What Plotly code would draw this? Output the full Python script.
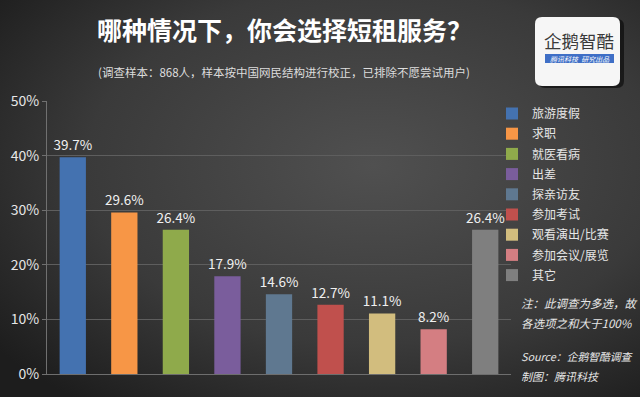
import base64
import plotly.graph_objects as go

W, H = 640, 397

categories = ["旅游度假", "求职", "就医看病", "出差", "探亲访友", "参加考试", "观看演出/比赛", "参加会议/展览", "其它"]
values = [39.7, 29.6, 26.4, 17.9, 14.6, 12.7, 11.1, 8.2, 26.4]
colors = ["#4472b0", "#f79646", "#8faa4b", "#7a5d9c", "#5f7890", "#c0504d", "#d2bd7e", "#d47e82", "#7f7f7f"]
y_ticks = [0, 10, 20, 30, 40, 50]
y_tick_labels = ["0%", "10%", "20%", "30%", "40%", "50%"]

title_text = "哪种情况下，你会选择短租服务？"
subtitle_text = "(调查样本：868人，样本按中国网民结构进行校正，已排除不愿尝试用户)"
note_lines = ["注：此调查为多选，故", "各选项之和大于100%", "Source：企鹅智酷调查", "制图：腾讯科技"]

FONT = "Noto Sans CJK SC"


def px(x):
    return x / W


def py(y):
    return 1 - y / H


fig = go.Figure()
for cat, val, col in zip(categories, values, colors):
    fig.add_trace(go.Bar(
        x=[cat], y=[val], name=cat, legendgroup=cat,
        marker=dict(color=col, line=dict(width=0)),
        text=[f"{val:.1f}%"], textposition="outside", constraintext="none",
        textfont=dict(color="#f0f0f0", size=13.5, family=FONT),
        cliponaxis=False,
    ))

# background radial gradient
svg = (
    f'<svg xmlns="http://www.w3.org/2000/svg" width="{W}" height="{H}">'
    '<defs><radialGradient id="g" cx="0.58" cy="0.42" r="0.72">'
    '<stop offset="0" stop-color="#505050"/><stop offset="0.6" stop-color="#3a3a3a"/>'
    '<stop offset="1" stop-color="#1d1d1d"/></radialGradient></defs>'
    f'<rect width="{W}" height="{H}" fill="url(#g)"/>'
    '</svg>'
)
bg_src = "data:image/svg+xml;base64," + base64.b64encode(svg.encode()).decode()


def rounded_rect(x0, y0, x1, y1, r):
    rx, ry = r / W, r / H
    X0, X1 = px(x0), px(x1)
    Y0, Y1 = py(y0), py(y1)
    return (f"M{X0+rx},{Y0} L{X1-rx},{Y0} Q{X1},{Y0} {X1},{Y0-ry} "
            f"L{X1},{Y1+ry} Q{X1},{Y1} {X1-rx},{Y1} L{X0+rx},{Y1} Q{X0},{Y1} {X0},{Y1+ry} "
            f"L{X0},{Y0-ry} Q{X0},{Y0} {X0+rx},{Y0} Z")


shapes = [
    dict(type="path", xref="paper", yref="paper", path=rounded_rect(538, 19, 624, 88, 7),
         fillcolor="rgba(0,0,0,0.55)", line=dict(width=0), layer="above"),
    dict(type="path", xref="paper", yref="paper", path=rounded_rect(535, 17, 620, 86, 7),
         fillcolor="#f6f6f6", line=dict(width=0), layer="above"),
    dict(type="rect", xref="paper", yref="paper", x0=px(545), x1=px(614), y0=py(63), y1=py(54),
         fillcolor="#3f6fc6", line=dict(width=0), layer="above"),
]

annotations = [
    dict(text=f"<b>{title_text}</b>", x=px(284), y=py(29), xref="paper", yref="paper",
         showarrow=False, font=dict(size=25, color="#ffffff", family=FONT), xanchor="center", yanchor="middle"),
    dict(text=subtitle_text, x=px(284), y=py(72), xref="paper", yref="paper",
         showarrow=False, font=dict(size=11.5, color="#dddddd", family=FONT), xanchor="center", yanchor="middle"),
    dict(text="企鹅智酷", x=px(579), y=py(40), xref="paper", yref="paper",
         showarrow=False, font=dict(size=17.5, color="#3a3a3a", family=FONT), xanchor="center", yanchor="middle"),
    dict(text="<i>腾讯科技  研究出品</i>", x=px(579.5), y=py(58.5), xref="paper", yref="paper",
         showarrow=False, font=dict(size=7, color="#ffffff", family=FONT), xanchor="center", yanchor="middle"),
]
note_y = [303, 323, 356, 376]
note_size = [11.5, 11.5, 10.8, 11]
for line, yy, fs in zip(note_lines, note_y, note_size):
    annotations.append(dict(text=f"<i>{line}</i>", x=px(519), y=py(yy), xref="paper", yref="paper",
                            showarrow=False, font=dict(size=fs, color="#e6e6e6", family=FONT),
                            xanchor="left", yanchor="middle"))

fig.update_layout(
    width=W, height=H, autosize=False,
    margin=dict(l=0, r=0, t=0, b=0, pad=0, autoexpand=False),
    paper_bgcolor="#2e2e2e",
    plot_bgcolor="rgba(0,0,0,0)",
    barmode="overlay",
    bargap=0.49,
    images=[dict(source=bg_src, xref="paper", yref="paper", x=-0.02, y=1.02, sizex=1.04, sizey=1.04,
                 sizing="stretch", layer="below", xanchor="left", yanchor="top")],
    shapes=shapes,
    annotations=annotations,
    showlegend=True,
    legend=dict(x=px(492), y=py(99), xanchor="left", yanchor="top",
                font=dict(size=12, color="#e6e6e6", family=FONT),
                bgcolor="rgba(0,0,0,0)", itemclick=False, itemdoubleclick=False,
                tracegroupgap=1.2, traceorder="grouped"),
    xaxis=dict(domain=[px(47), px(511)], showticklabels=False, showgrid=False, automargin=False,
               showline=True, linecolor="#6e6e6e", linewidth=1, zeroline=False,
               categoryorder="array", categoryarray=categories, fixedrange=True),
    yaxis=dict(domain=[py(374), py(101)], range=[0, 50], tickvals=y_ticks, ticktext=y_tick_labels,
               automargin=False,
               showgrid=True, gridcolor="#5e5e5e", gridwidth=1, showline=True, linecolor="#707070",
               ticks="outside", ticklen=4, tickcolor="#707070", zeroline=False,
               tickfont=dict(size=14, color="#e6e6e6", family=FONT), fixedrange=True),
)

fig.write_html("out.html", config={"displayModeBar": False},
               post_script="document.body.style.margin='0';document.body.style.overflow='hidden';")
